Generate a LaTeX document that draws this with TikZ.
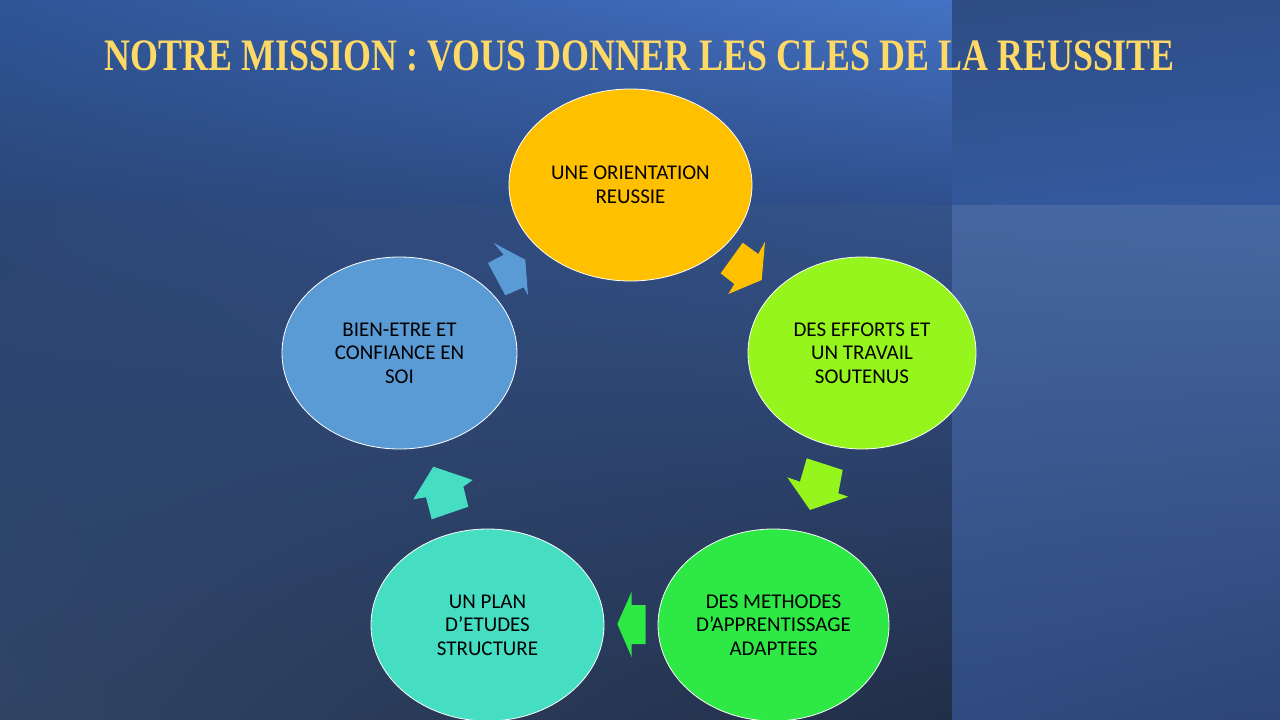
\documentclass[tikz,border=0pt]{standalone}
\usepackage{fontspec}
\setmainfont{Carlito}
\newfontfamily\titlefont{Liberation Serif}
\usetikzlibrary{shapes.geometric, shadings}

\definecolor{titleyellow}{HTML}{FFD966}
\definecolor{orientc}{HTML}{FFC000}
\definecolor{effortc}{HTML}{96F51C}
\definecolor{methodc}{HTML}{2EE845}
\definecolor{planc}{HTML}{45DEC2}
\definecolor{bienc}{HTML}{5B9BD5}

% Background tones
\definecolor{bgA}{HTML}{2F5597}
\definecolor{bgB}{HTML}{4472C4}
\definecolor{bgC}{HTML}{2A4778}
\definecolor{bgD}{HTML}{2F4F8C}
\definecolor{bgE}{HTML}{2E4D86}
\definecolor{bgF}{HTML}{2F4F8A}
\definecolor{bgG}{HTML}{33589A}
\definecolor{bgH}{HTML}{3459A0}
\definecolor{bgI}{HTML}{2C4676}
\definecolor{bgJ}{HTML}{34538A}
\definecolor{bgK}{HTML}{2F4465}
\definecolor{bgL}{HTML}{222E48}
\definecolor{bgM}{HTML}{4566A0}
\definecolor{bgN}{HTML}{4668A2}
\definecolor{bgO}{HTML}{2F4B7F}
\definecolor{bgP}{HTML}{2D4577}

\tikzset{
  key/.style={ellipse, draw=white, line width=0.8pt, inner sep=0pt,
    minimum height=192pt, align=center, text=black,
    font=\fontsize{21}{23.5}\selectfont},
}

\begin{document}
\begin{tikzpicture}[x=1pt, y=-1pt]

  \useasboundingbox (0,0) rectangle (1280,720);

  % Background panels
  \shade[upper left=bgA, upper right=bgB, lower left=bgC, lower right=bgD]
    (0,0) rectangle (952,205);
  \shade[upper left=bgE, upper right=bgF, lower left=bgG, lower right=bgH]
    (952,0) rectangle (1280,205);
  \shade[upper left=bgI, upper right=bgJ, lower left=bgK, lower right=bgL]
    (0,205) rectangle (952,720);
  \shade[upper left=bgM, upper right=bgN, lower left=bgO, lower right=bgP]
    (952,205) rectangle (1280,720);

  % Title
  \node[text=titleyellow, inner sep=0pt] (title) at (640,56)
    {\resizebox{1070pt}{\height}{\titlefont\bfseries\fontsize{45}{50}\selectfont
      NOTRE MISSION : VOUS DONNER LES CLES DE LA REUSSITE}};

  % Cycle of ellipses
  \node[key, fill=orientc, minimum width=243pt] (orient) at (630.5,185)
    {UNE ORIENTATION\\REUSSIE};
  \node[key, fill=effortc, minimum width=228pt] (effort) at (862,353)
    {DES EFFORTS ET\\UN TRAVAIL\\SOUTENUS};
  \node[key, fill=methodc, minimum width=231pt] (method) at (773.5,625)
    {DES METHODES\\D’APPRENTISSAGE\\ADAPTEES};
  \node[key, fill=planc, minimum width=233pt] (plan) at (487.5,625)
    {UN PLAN\\D’ETUDES\\STRUCTURE};
  \node[key, fill=bienc, minimum width=235pt] (bien) at (399.5,353)
    {BIEN-ETRE ET\\CONFIANCE EN\\SOI};

  % Block arrows between ellipses
  \fill[orientc] (720.7,273.3) -- (742.7,242.7) -- (758.3,254) -- (765,241.7)
    -- (761.7,280) -- (728.3,294) -- (734.3,284) -- cycle;
  \fill[effortc] (806.7,458.3) -- (842.7,470) -- (838.3,493.3) -- (848.3,496.7)
    -- (810,510) -- (787.3,477.3) -- (800,481.7) -- cycle;
  \fill[methodc] (645.7,605) -- (645.7,644) -- (631.7,644) -- (631.7,657.3)
    -- (617.3,624) -- (631.7,591.7) -- (631.7,605) -- cycle;
  \fill[planc] (468.3,506.7) -- (431.7,519.3) -- (426,497.3) -- (413.3,499.3)
    -- (433.3,466.7) -- (472.7,480) -- (463.3,486.7) -- cycle;
  \fill[bienc] (505.3,295.3) -- (488,263) -- (503.7,254.7) -- (493.7,243)
    -- (525.3,259.7) -- (528,295.3) -- (523.7,287.3) -- cycle;

\end{tikzpicture}
\end{document}
